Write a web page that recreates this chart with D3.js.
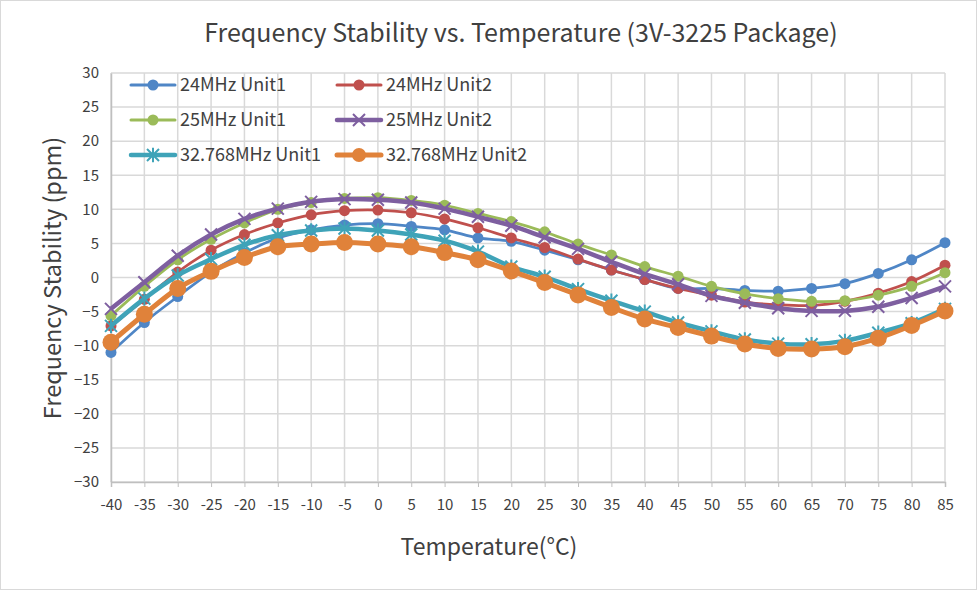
<!DOCTYPE html>
<html><head><meta charset="utf-8">
<script src="https://cdn.jsdelivr.net/npm/d3@7/dist/d3.min.js"></script>
<style>body{margin:0;background:#fff}svg{display:block}text{font-family:"Noto Sans CJK SC","Noto Sans",sans-serif;fill:#404040}</style>
</head><body><svg id="c" width="977" height="590"></svg>
<script>
const temps = [-40,-35,-30,-25,-20,-15,-10,-5,0,5,10,15,20,25,30,35,40,45,50,55,60,65,70,75,80,85];
const yTicks = [-30,-25,-20,-15,-10,-5,0,5,10,15,20,25,30];
const seriesNames = ["24MHz Unit1","24MHz Unit2","25MHz Unit1","25MHz Unit2","32.768MHz Unit1","32.768MHz Unit2"];
const blue24u1 = [-11.0,-6.6,-2.8,0.8,3.6,5.8,7.0,7.7,7.9,7.5,7.0,5.8,5.3,4.0,2.6,1.1,-0.3,-1.6,-1.6,-1.9,-2.0,-1.6,-0.9,0.6,2.6,5.1];
const red24u2 = [-7.1,-3.2,0.8,4.0,6.3,8.0,9.2,9.8,9.9,9.5,8.6,7.3,5.8,4.4,2.7,1.1,-0.3,-1.6,-2.6,-3.6,-4.0,-4.1,-3.5,-2.3,-0.6,1.8];
const green25u1 = [-5.6,-1.3,2.6,5.6,8.0,10.0,11.0,11.6,11.7,11.3,10.6,9.4,8.2,6.7,4.9,3.3,1.6,0.2,-1.3,-2.4,-3.1,-3.5,-3.4,-2.6,-1.3,0.7];
const purple25u2 = [-4.6,-0.7,3.2,6.3,8.6,10.1,11.1,11.5,11.4,11.0,10.1,8.9,7.6,5.9,4.2,2.3,0.5,-1.0,-2.7,-3.7,-4.5,-4.9,-4.9,-4.3,-3.0,-1.3];
const cyan32u1 = [-7.1,-3.1,0.3,2.7,4.8,6.2,6.9,7.2,6.9,6.3,5.4,3.8,1.6,0.1,-1.7,-3.4,-5.0,-6.6,-7.9,-9.1,-9.7,-9.8,-9.3,-8.1,-6.7,-4.6];
const orange32u2 = [-9.5,-5.4,-1.6,0.9,2.95,4.5,4.9,5.15,4.9,4.5,3.65,2.6,0.95,-0.75,-2.55,-4.4,-6.1,-7.35,-8.6,-9.75,-10.4,-10.5,-10.15,-8.9,-7.05,-4.9];

const values = [blue24u1, red24u2, green25u1, purple25u2, cyan32u1, orange32u2];
const styles = [
  {color:"#4F86C6", lw:2.75, marker:"circle", r:5.5},
  {color:"#C0504D", lw:2.75, marker:"circle", r:5.5},
  {color:"#9BBB59", lw:2.75, marker:"circle", r:5.5},
  {color:"#7E5FA0", lw:4.5, marker:"x", r:6},
  {color:"#3FA3B8", lw:4.5, marker:"star", r:6},
  {color:"#E0823A", lw:5, marker:"circle", r:8.5}
];

const svg = d3.select("#c");
svg.append("rect").attr("x",0.5).attr("y",0.5).attr("width",976).attr("height",589).attr("fill","#fff").attr("stroke","#d9d9d9");

const L=111, R=945, T=73, B=482;
const x = d3.scalePoint().domain(temps).range([L,R]).padding(0);
const y = d3.scaleLinear().domain([-30,30]).range([B,T]);

// grid
const g = svg.append("g");
g.selectAll("line.h").data(yTicks).join("line").attr("x1",L).attr("x2",R)
  .attr("y1",d=>y(d)).attr("y2",d=>y(d)).attr("stroke","#d9d9d9").attr("stroke-width",1.5);
g.selectAll("line.v").data(temps).join("line").attr("y1",T).attr("y2",B)
  .attr("x1",d=>x(d)).attr("x2",d=>x(d)).attr("stroke","#d9d9d9").attr("stroke-width",1.5);

// axes
const yAxis = svg.append("g").attr("transform",`translate(${L},0)`)
  .call(d3.axisLeft(y).tickValues(yTicks).tickSize(0).tickPadding(12));
yAxis.select(".domain").attr("stroke","#bfbfbf").attr("stroke-width",1.5);
yAxis.selectAll("text").style("font-size","15px").attr("fill","#000");
const xAxis = svg.append("g").attr("transform",`translate(0,${B})`)
  .call(d3.axisBottom(x).tickSize(5).tickPadding(12));
xAxis.select(".domain").attr("stroke","#bfbfbf").attr("stroke-width",1.5);
xAxis.selectAll(".tick line").attr("stroke","#bfbfbf");
xAxis.selectAll("text").style("font-size","15px").attr("fill","#000");

// titles
svg.append("text").attr("x",521).attr("y",42).attr("text-anchor","middle").style("font-size","25px").attr("fill","#000")
  .text("Frequency Stability vs. Temperature (3V-3225 Package)");
svg.append("text").attr("transform","translate(61,278) rotate(-90)").attr("text-anchor","middle").style("font-size","23.5px")
  .text("Frequency Stability (ppm)");
svg.append("text").attr("x",489).attr("y",555).attr("text-anchor","middle").style("font-size","23px")
  .text("Temperature(°C)");

function drawMarker(sel, st){
  if(st.marker==="circle"){
    sel.append("circle").attr("r",st.r).attr("fill",st.color);
  } else if(st.marker==="x"){
    const r=st.r;
    sel.append("path").attr("d",`M${-r},${-r}L${r},${r}M${-r},${r}L${r},${-r}`).attr("stroke",st.color).attr("stroke-width",2).attr("fill","none");
  } else {
    const r=st.r;
    sel.append("path").attr("d",`M${-r},${-r}L${r},${r}M${-r},${r}L${r},${-r}M0,${-r*1.2}L0,${r*1.2}`).attr("stroke",st.color).attr("stroke-width",2).attr("fill","none");
  }
}

const line = d3.line().x((d,i)=>x(temps[i])).y(d=>y(d)).curve(d3.curveCardinal.tension(0));
values.forEach((vals,si)=>{
  const st=styles[si];
  const sg=svg.append("g");
  sg.append("path").attr("d",line(vals)).attr("fill","none").attr("stroke",st.color).attr("stroke-width",st.lw).attr("stroke-linejoin","round");
  vals.forEach((v,i)=>{
    const m=sg.append("g").attr("transform",`translate(${x(temps[i])},${y(v)})`);
    drawMarker(m,st);
  });
});

// legend
const legPos = [[131,85],[337,85],[131,120],[337,120],[131,155],[337,155]];
seriesNames.forEach((n,i)=>{
  const st=styles[i]; const [lx,ly]=legPos[i];
  const lg=svg.append("g");
  lg.append("line").attr("x1",lx).attr("x2",lx+44).attr("y1",ly).attr("y2",ly).attr("stroke",st.color).attr("stroke-width",Math.max(st.lw,3)).attr("stroke-linecap","round");
  const m=lg.append("g").attr("transform",`translate(${lx+22},${ly})`);
  drawMarker(m,{...st, r: st.marker==="circle" ? Math.min(st.r,7) : st.r});
  lg.append("text").attr("x",lx+49).attr("y",ly).attr("dy","0.35em").style("font-size","18px").attr("fill","#000").text(n);
});
</script></body></html>
